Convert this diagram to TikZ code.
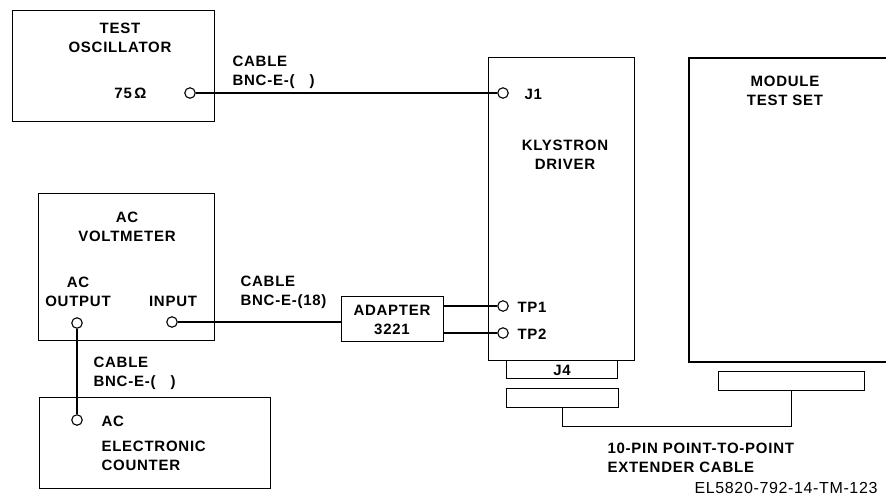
\documentclass[tikz,border=0pt]{standalone}
\usepackage{fontspec}
\setmainfont{Liberation Sans}
\newfontfamily\labfont[LetterSpace=5]{Liberation Sans}
\newfontfamily\codefont[LetterSpace=4]{Liberation Sans}
\begin{document}
\begin{tikzpicture}[x=1pt,y=-1pt,line width=1.1pt,
  box/.style={draw,rectangle,inner sep=0pt,anchor=north west},
  jack/.style={draw,circle,minimum size=10.5pt,inner sep=0pt,fill=white},
  lbl/.style={font=\labfont\fontsize{15}{19}\selectfont\bfseries,align=center,inner sep=0pt},
  lbll/.style={lbl,align=left,anchor=west},
  code/.style={font=\codefont\fontsize{16}{19}\selectfont,inner sep=0pt,anchor=west}]
\useasboundingbox (0,0) rectangle (886,496);
% boxes
\node[box,minimum width=202pt,minimum height=111pt] (osc) at (12,10) {};
\node[box,minimum width=176pt,minimum height=147pt] (volt) at (38,193) {};
\node[box,minimum width=231pt,minimum height=91pt] (counter) at (39,397) {};
\node[box,minimum width=102pt,minimum height=45pt] (adapter) at (341,296) {};
\node[box,minimum width=146pt,minimum height=303pt] (kly) at (488,57) {};
\node[box,minimum width=111pt,minimum height=18pt] (j4) at (506,360) {};
\node[box,minimum width=112pt,minimum height=19pt] (plug) at (506,388) {};
\node[box,minimum width=146pt,minimum height=19pt] (modconn) at (718,371) {};
\draw (886,58) coordinate (mtr) -- (689,58) -- (689,362) -- (886,362) coordinate (mbr);
% jacks
\node[jack] (oscj) at (190,93) {};
\node[jack] (j1) at (503,93) {};
\node[jack] (tp1) at (503,306) {};
\node[jack] (tp2) at (503,333) {};
\node[jack] (outj) at (77,323) {};
\node[jack] (inj) at (172,322) {};
\node[jack] (cntj) at (77,420) {};
% connectors
\draw (oscj) -- (j1);
\draw (inj) -- (inj -| adapter.west);
\draw (tp1 -| adapter.east) -- (tp1);
\draw (tp2 -| adapter.east) -- (tp2);
\draw (outj) -- (cntj);
\draw (plug.south) -- ++(0,18) coordinate (cb) -| (modconn.south);
% labels
\node[lbl] (tOsc) at (120,38) {TEST\\OSCILLATOR};
\node[lbl,anchor=east] (tOhm) at (147,93) {75\,Ω};
\node[lbll] (tC1) at (232,72) {CABLE\\BNC-E-(\quad)};
\node[lbll] (tJ1) at (524,94) {J1};
\node[lbl] (tKly) at (565,155) {KLYSTRON\\DRIVER};
\node[lbl] (tMod) at (785,91) {MODULE\\TEST SET};
\node[lbl] (tVolt) at (127,227) {AC\\VOLTMETER};
\node[lbl] (tOut) at (78,292) {AC\\OUTPUT};
\node[lbl] (tIn) at (173,301) {INPUT};
\node[lbll] (tC2) at (240,292) {CABLE\\BNC-E-(18)};
\node[lbl] (tAd) at (392,320) {ADAPTER\\3221};
\node[lbll] (tTP1) at (517,307) {TP1};
\node[lbll] (tTP2) at (517,334) {TP2};
\node[lbl] (tJ4) at (562,370) {J4};
\node[lbll] (tC3) at (93,373) {CABLE\\BNC-E-(\quad)};
\node[lbll] (tAC) at (101,421) {AC};
\node[lbll] (tCnt) at (101,456) {ELECTRONIC\\COUNTER};
\node[lbll] (tExt) at (607,458) {10-PIN POINT-TO-POINT\\EXTENDER CABLE};
\node[code] (tEL) at (694,488) {EL5820-792-14-TM-123};
\end{tikzpicture}
\end{document}
